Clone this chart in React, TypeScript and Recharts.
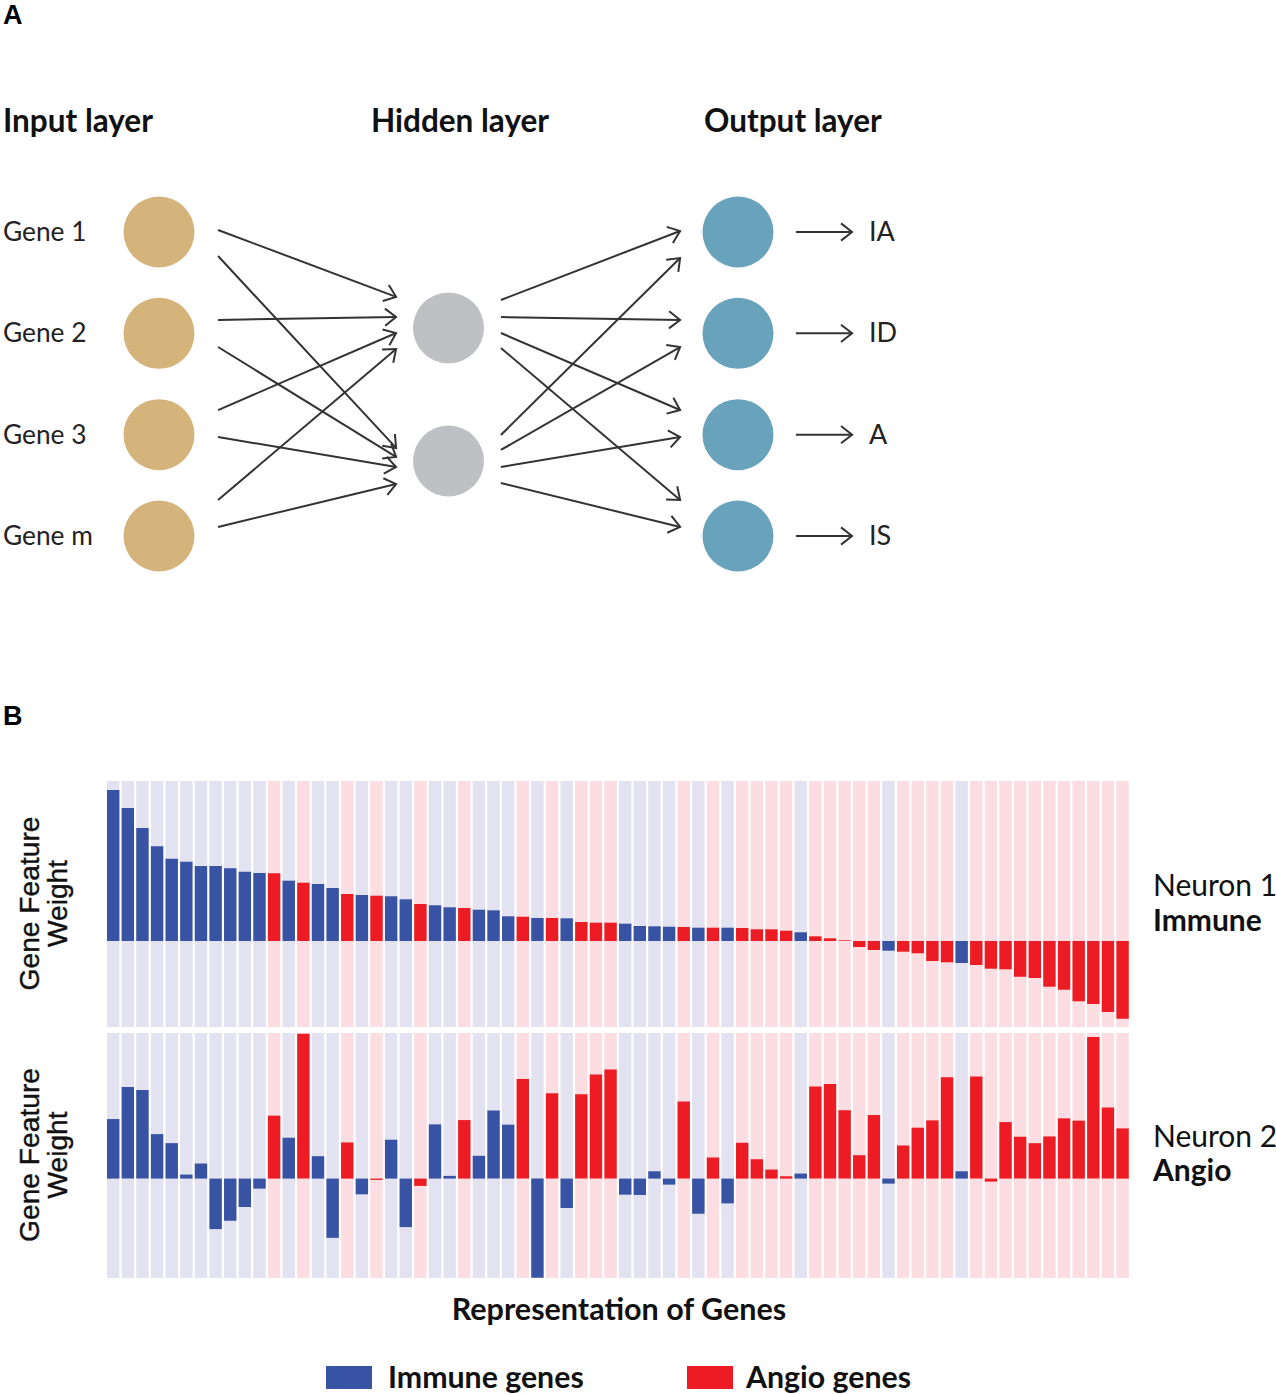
import React from 'react';
import { ScatterChart, Scatter, XAxis, YAxis, ReferenceLine, BarChart, Bar, Cell } from 'recharts';

// ---------- Part A: network layout (layer index, slot index) ----------
const inputNodes = [
  { layer: 0, slot: 0 },
  { layer: 0, slot: 1 },
  { layer: 0, slot: 2 },
  { layer: 0, slot: 3 },
];
const hiddenNodes = [
  { layer: 1, slot: 0.947 },
  { layer: 1, slot: 2.26 },
];
const outputNodes = [
  { layer: 2, slot: 0 },
  { layer: 2, slot: 1 },
  { layer: 2, slot: 2 },
  { layer: 2, slot: 3 },
];
const inputLabels = ['Gene 1', 'Gene 2', 'Gene 3', 'Gene m'];
const outputLabels = ['IA', 'ID', 'A', 'IS'];
const layerTitles = ['Input layer', 'Hidden layer', 'Output layer'];

// edges: [x0, y0, x1, y1] in (layer, slot) units
const inputEdges = [
  [0.204, -0.02, 0.819, 0.64],
  [0.204, 0.237, 0.819, 2.131],
  [0.204, 0.868, 0.819, 0.839],
  [0.204, 1.135, 0.819, 2.22],
  [0.204, 1.757, 0.819, 0.997],
  [0.204, 2.023, 0.819, 2.319],
  [0.204, 2.645, 0.819, 1.155],
  [0.204, 2.911, 0.819, 2.487],
];
const hiddenEdges = [
  [1.181, 0.671, 1.8, -0.01],
  [1.181, 0.839, 1.8, 0.868],
  [1.181, 0.997, 1.8, 1.757],
  [1.181, 1.145, 1.8, 2.645],
  [1.181, 2.003, 1.8, 0.257],
  [1.181, 2.151, 1.8, 1.135],
  [1.181, 2.319, 1.8, 2.023],
  [1.181, 2.477, 1.8, 2.911],
];
const outputArrows = [
  [2.2, 0, 2.394, 0],
  [2.2, 1, 2.394, 1],
  [2.2, 2, 2.394, 2],
  [2.2, 3, 2.394, 3],
];

// ---------- Part B: gene feature weights ----------
const geneType = [
  'I','I','I','I','I','I','I','I','I','I',
  'I','A','I','A','I','I','A','I','A','I',
  'I','A','I','I','A','I','I','I','A','I',
  'A','I','A','A','A','I','I','I','I','A',
  'I','A','I','A','A','A','A','I','A','A',
  'A','A','A','I','A','A','A','A','I','A',
  'A','A','A','A','A','A','A','A','A','A',
];
const neuron1 = [
  151, 133, 113, 94.7, 82.3, 79.3, 75, 75, 72.7, 69.3,
  68, 67.7, 60.3, 58.3, 57, 53, 47, 46, 45.3, 44.7,
  41.7, 37, 35.7, 33.7, 33, 31.3, 30.7, 24.7, 24.3, 23,
  23, 22.7, 19, 18.3, 18.3, 17.3, 15, 14.7, 14.3, 14,
  13.3, 13.3, 13.3, 13, 11.7, 11.7, 10.3, 8.7, 4.7, 2.7,
  0.7, -6, -9, -9.7, -10.7, -12.3, -20, -21.3, -22, -24,
  -27.7, -28.3, -35.7, -37, -45.7, -48.7, -60.3, -63, -71, -77.7,
];
const neuron2 = [
  59.3, 91.3, 88.3, 44.3, 35.3, 4, 15, -50.3, -42, -28.3,
  -10, 62.7, 40.7, 144.3, 22.3, -59, 36, -15.7, -1.3, 38.7,
  -48.3, -7.3, 54, 2.7, 58.3, 22.7, 67.7, 53.7, 99.3, -98.7,
  85, -29.3, 84, 103.7, 108.7, -16, -16.3, 7.3, -6, 76.7,
  -35, 21, -24.7, 35.7, 19.3, 9, 2.3, 5, 91.7, 94.3,
  68, 23.3, 63.3, -5, 33, 50.7, 58, 101, 7.3, 101.7,
  -3, 56.3, 41.7, 35.3, 42, 60, 57.7, 141, 70.7, 50,
];
const domain1 = [-86, 160];
const domain2 = [-99, 145];
const legendItems = ['Immune genes', 'Angio genes'];

const BLUE = '#3852A4';
const RED = '#ED1C24';
const BG_BLUE = '#E2E2F0';
const BG_RED = '#FCDDE2';

const geneData = geneType.map((t, i) => ({
  id: i,
  type: t,
  n1: neuron1[i],
  n2: neuron2[i],
  bg1: domain1,
  bg2: domain2,
}));

const ArrowLine = (props: any) => {
  const { x1, y1, x2, y2 } = props;
  if ([x1, y1, x2, y2].some((v) => v == null || isNaN(v))) return null;
  const dx = x2 - x1;
  const dy = y2 - y1;
  const len = Math.sqrt(dx * dx + dy * dy) || 1;
  const ux = dx / len;
  const uy = dy / len;
  const L = 14;
  const a = (38 * Math.PI) / 180;
  const c = Math.cos(a);
  const s = Math.sin(a);
  const ax1 = x2 - L * (ux * c - uy * s);
  const ay1 = y2 - L * (uy * c + ux * s);
  const ax2 = x2 - L * (ux * c + uy * s);
  const ay2 = y2 - L * (uy * c - ux * s);
  return (
    <g>
      <line x1={x1} y1={y1} x2={x2} y2={y2} stroke="#333" strokeWidth={2} />
      <path d={`M${ax1},${ay1} L${x2},${y2} L${ax2},${ay2}`} fill="none" stroke="#333" strokeWidth={2} />
    </g>
  );
};

const nodeShape = (fill: string) => (p: any) => <circle cx={p.cx} cy={p.cy} r={35.5} fill={fill} />;

const renderEdge = (e: number[], k: string) => (
  <ReferenceLine
    key={k}
    segment={[{ x: e[0], y: e[1] }, { x: e[2], y: e[3] }]}
    ifOverflow="visible"
    shape={ArrowLine}
  />
);

const NetworkChart = () => (
  <ScatterChart
    width={1276}
    height={640}
    margin={{ top: 181.33, right: 393.25, bottom: 53.33, left: 14.25 }}
  >
    <XAxis type="number" dataKey="layer" domain={[-0.5, 2.5]} hide />
    <YAxis type="number" dataKey="slot" domain={[-0.5, 3.5]} reversed hide />
    {inputEdges.map((e, i) => renderEdge(e, 'in' + i))}
    {hiddenEdges.map((e, i) => renderEdge(e, 'hid' + i))}
    {outputArrows.map((e, i) => renderEdge(e, 'out' + i))}
    <Scatter data={inputNodes} shape={nodeShape('#D4B47A')} isAnimationActive={false} />
    <Scatter data={hiddenNodes} shape={nodeShape('#BFC0C4')} isAnimationActive={false} />
    <Scatter data={outputNodes} shape={nodeShape('#68A3BB')} isAnimationActive={false} />
  </ScatterChart>
);

const WeightChart = ({ valueKey, bgKey, domain, height }: any) => (
  <BarChart
    width={1276}
    height={height}
    data={geneData}
    margin={{ top: 0, right: 146, bottom: 0, left: 106 }}
    barCategoryGap={0}
  >
    <XAxis xAxisId="bg" dataKey="id" hide />
    <XAxis xAxisId="fg" dataKey="id" hide />
    <YAxis domain={domain} allowDataOverflow hide />
    <Bar xAxisId="bg" dataKey={bgKey} barSize={12.4} isAnimationActive={false}>
      {geneData.map((d, i) => (
        <Cell key={i} fill={d.type === 'I' ? BG_BLUE : BG_RED} />
      ))}
    </Bar>
    <Bar xAxisId="fg" dataKey={valueKey} barSize={12.4} isAnimationActive={false}>
      {geneData.map((d, i) => (
        <Cell key={i} fill={d.type === 'I' ? BLUE : RED} />
      ))}
    </Bar>
  </BarChart>
);

const LATO = 'Lato, "Noto Sans", sans-serif';
const ARIAL = '"Liberation Sans", Arial, sans-serif';

export default function App() {
  const ySlots = [241, 342, 444, 545];
  return (
    <div style={{ position: 'absolute', left: 0, top: 0, width: 1276, height: 1394, background: '#fff' }}>
      <div style={{ position: 'absolute', left: 0, top: 0 }}>
        <NetworkChart />
      </div>
      <div style={{ position: 'absolute', left: 0, top: 781 }}>
        <WeightChart valueKey="n1" bgKey="bg1" domain={domain1} height={246} />
      </div>
      <div style={{ position: 'absolute', left: 0, top: 1033 }}>
        <WeightChart valueKey="n2" bgKey="bg2" domain={domain2} height={245} />
      </div>
      <svg
        width={1276}
        height={1394}
        style={{ position: 'absolute', left: 0, top: 0, pointerEvents: 'none' }}
      >
        <text x={3} y={24} fontFamily={ARIAL} fontWeight={700} fontSize={27} fill="#000">A</text>
        <text x={3} y={725} fontFamily={ARIAL} fontWeight={700} fontSize={27} fill="#000">B</text>
        <text x={3} y={132} fontFamily={LATO} fontWeight={700} fontSize={31.5} fill="#111">{layerTitles[0]}</text>
        <text x={371} y={132} fontFamily={LATO} fontWeight={700} fontSize={31.5} fill="#111">{layerTitles[1]}</text>
        <text x={704} y={132} fontFamily={LATO} fontWeight={700} fontSize={31.5} fill="#111">{layerTitles[2]}</text>
        {inputLabels.map((t, i) => (
          <text key={t} x={3} y={ySlots[i]} fontFamily={LATO} fontSize={26.3} fill="#222">{t}</text>
        ))}
        {outputLabels.map((t, i) => (
          <text key={t} x={869} y={ySlots[i]} fontFamily={LATO} fontSize={27} fill="#222">{t}</text>
        ))}
        <text transform="translate(39,903.5) rotate(-90)" textAnchor="middle" fontFamily={ARIAL} fontSize={28.2} fill="#111" stroke="#111" strokeWidth={0.4}>Gene Feature</text>
        <text transform="translate(67,903.5) rotate(-90)" textAnchor="middle" fontFamily={ARIAL} fontSize={28.2} fill="#111" stroke="#111" strokeWidth={0.4}>Weight</text>
        <text transform="translate(39,1155) rotate(-90)" textAnchor="middle" fontFamily={ARIAL} fontSize={28.2} fill="#111" stroke="#111" strokeWidth={0.4}>Gene Feature</text>
        <text transform="translate(67,1155) rotate(-90)" textAnchor="middle" fontFamily={ARIAL} fontSize={28.2} fill="#111" stroke="#111" strokeWidth={0.4}>Weight</text>
        <text x={1153} y={896} fontFamily={LATO} fontSize={30} fill="#111">Neuron 1</text>
        <text x={1153} y={931} fontFamily={LATO} fontWeight={700} fontSize={30} fill="#111">Immune</text>
        <text x={1153} y={1147} fontFamily={LATO} fontSize={30} fill="#111">Neuron 2</text>
        <text x={1153} y={1181} fontFamily={LATO} fontWeight={700} fontSize={30} fill="#111">Angio</text>
        <text x={619} y={1320} textAnchor="middle" fontFamily={LATO} fontWeight={700} fontSize={30.5} fill="#111">Representation of Genes</text>
        <rect x={326} y={1366} width={46} height={23} fill={BLUE} />
        <text x={388} y={1388} fontFamily={LATO} fontWeight={700} fontSize={30.3} fill="#111">{legendItems[0]}</text>
        <rect x={687} y={1366} width={46} height={23} fill={RED} />
        <text x={746} y={1388} fontFamily={LATO} fontWeight={700} fontSize={30.3} fill="#111">{legendItems[1]}</text>
      </svg>
    </div>
  );
}
